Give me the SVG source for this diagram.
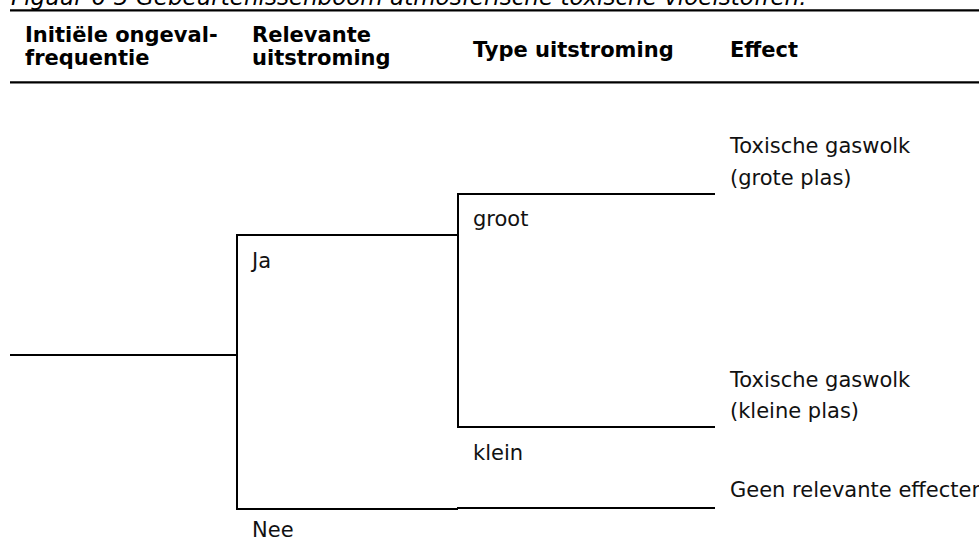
<svg xmlns="http://www.w3.org/2000/svg" width="979" height="540" viewBox="0 0 979 540">
  <style>
    text { font-family: "DejaVu Sans", Verdana, "Liberation Sans", sans-serif; fill: #000; }
    .title { font-size: 23px; font-style: italic; }
    .head { font-size: 21px; font-weight: bold; }
    .lbl { font-size: 21px; fill: #111; }
    .rule { stroke: #000; stroke-width: 2.2; fill: none; }
    .branch { stroke: #000; stroke-width: 2; fill: none; }
  </style>
  <rect width="979" height="540" fill="#fff"/>

  <!-- caption above the table -->
  <g id="caption">
    <text class="title" x="11" y="5">Figuur 6-3 Gebeurtenissenboom atmosferische toxische vloeistoffen.</text>
  </g>

  <!-- column header with rules -->
  <g id="header">
    <line class="rule" x1="10" y1="10.3" x2="979" y2="10.3"/>
    <line class="rule" x1="10" y1="82.3" x2="979" y2="82.3"/>
    <text class="head" x="25" y="41.7">Initiële ongeval-</text>
    <text class="head" x="25" y="64.5">frequentie</text>
    <text class="head" x="252" y="41.7">Relevante</text>
    <text class="head" x="252" y="64.5">uitstroming</text>
    <text class="head" x="473" y="57">Type uitstroming</text>
    <text class="head" x="730" y="57">Effect</text>
  </g>

  <!-- event tree branches -->
  <g id="connectors">
    <line class="branch" x1="10" y1="355" x2="238" y2="355"/>
    <polyline class="branch" points="458,235 237,235 237,509 458,509"/>
    <polyline class="branch" points="715,194 458,194 458,427 715,427"/>
    <line class="branch" x1="457" y1="508" x2="715" y2="508"/>
  </g>

  <g id="node-ja">
    <text class="lbl" x="252" y="268">Ja</text>
  </g>
  <g id="node-nee">
    <text class="lbl" x="252" y="537">Nee</text>
  </g>
  <g id="node-groot">
    <text class="lbl" x="473" y="226">groot</text>
  </g>
  <g id="node-klein">
    <text class="lbl" x="473" y="460">klein</text>
  </g>
  <g id="effect-grote-plas">
    <text class="lbl" x="730" y="153">Toxische gaswolk</text>
    <text class="lbl" x="730" y="185">(grote plas)</text>
  </g>
  <g id="effect-kleine-plas">
    <text class="lbl" x="730" y="387">Toxische gaswolk</text>
    <text class="lbl" x="730" y="418">(kleine plas)</text>
  </g>
  <g id="effect-geen">
    <text class="lbl" x="730" y="497">Geen relevante effecten</text>
  </g>
</svg>
